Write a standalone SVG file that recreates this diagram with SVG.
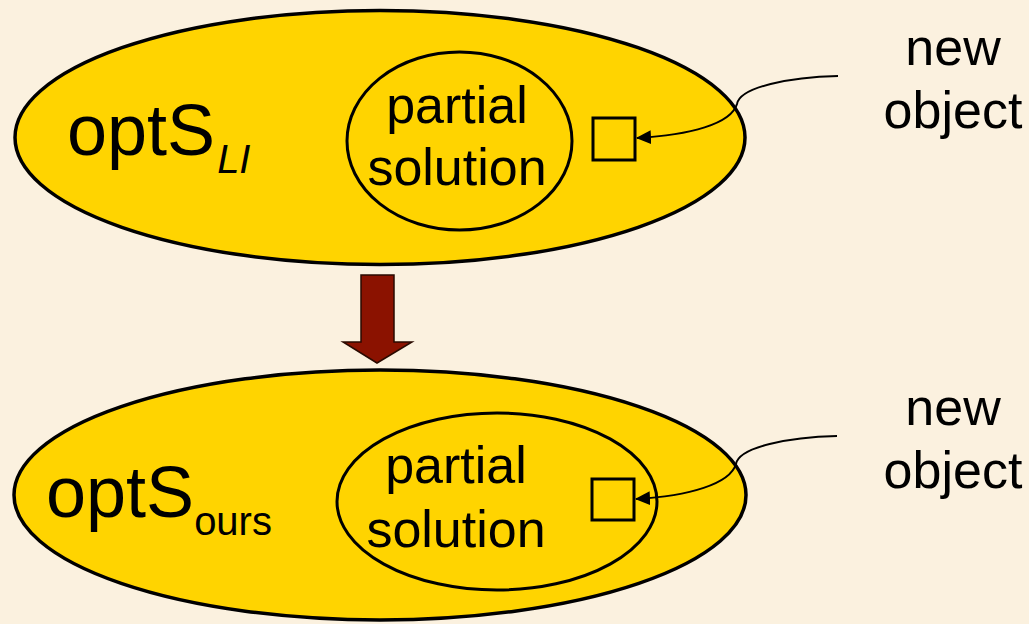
<svg xmlns="http://www.w3.org/2000/svg" width="1029" height="624" viewBox="0 0 1029 624">
  <style>
    .set { fill: #FFD400; stroke: #000; stroke-width: 3.5; }
    .inner { fill: none; stroke: #000; stroke-width: 3; }
    .obj { fill: none; stroke: #000; stroke-width: 3; }
    .lbl { font-family: "Liberation Sans", Arial, sans-serif; fill: #000; }
    .link { fill: none; stroke: #000; stroke-width: 2; }
  </style>
  <defs>
    <marker id="tipL" viewBox="0 0 15 14" refX="14" refY="7" markerWidth="15" markerHeight="14" markerUnits="userSpaceOnUse" orient="auto">
      <path d="M0,0 L15,7 L0,14 z" fill="#000"/>
    </marker>
  </defs>

  <rect x="0" y="0" width="1029" height="624" fill="#FBF1DF"/>

  <!-- upper set: optS_LI -->
  <g id="optS-LI">
    <ellipse class="set" cx="380" cy="137.5" rx="365" ry="127"/>
    <text class="lbl" x="67" y="155" font-size="72">optS<tspan font-size="40" font-style="italic" dx="2" dy="18">LI</tspan></text>
  </g>
  <g id="partial-top">
    <ellipse class="inner" cx="459.5" cy="141" rx="112.5" ry="89"/>
    <text class="lbl" x="457" y="123" font-size="52" text-anchor="middle">partial</text>
    <text class="lbl" x="457" y="185" font-size="52" text-anchor="middle">solution</text>
  </g>
  <g id="object-top">
    <rect class="obj" x="593" y="118" width="42" height="42"/>
  </g>
  <g id="label-top">
    <text class="lbl" x="953" y="65" font-size="52" text-anchor="middle">new</text>
    <text class="lbl" x="953" y="128" font-size="52" text-anchor="middle">object</text>
  </g>

  <!-- lower set: optS_ours -->
  <g id="optS-ours">
    <ellipse class="set" cx="380" cy="495" rx="366" ry="125"/>
    <text class="lbl" x="46" y="517" font-size="72">optS<tspan font-size="40" dy="18">ours</tspan></text>
  </g>
  <g id="partial-bottom">
    <ellipse class="inner" cx="497" cy="501.5" rx="160" ry="88.5"/>
    <text class="lbl" x="456" y="483" font-size="52" text-anchor="middle">partial</text>
    <text class="lbl" x="456" y="547" font-size="52" text-anchor="middle">solution</text>
  </g>
  <g id="object-bottom">
    <rect class="obj" x="592" y="479" width="42" height="41"/>
  </g>
  <g id="label-bottom">
    <text class="lbl" x="953" y="425" font-size="52" text-anchor="middle">new</text>
    <text class="lbl" x="953" y="488" font-size="52" text-anchor="middle">object</text>
  </g>

  <!-- connectors -->
  <g id="connectors">
    <path class="link" d="M838,76 C790,77 740,87 737,104 C731,124 690,135 637,138" marker-end="url(#tipL)"/>
    <path class="link" d="M837,436 C789,437 739,447 736,464 C730,484 689,496 636,499" marker-end="url(#tipL)"/>
    <path d="M361,275 L394,275 L394,342 L412,342 L377,363 L343,342 L361,342 z" fill="#8B1200" stroke="#2a0a00" stroke-width="1.5"/>
  </g>
</svg>
